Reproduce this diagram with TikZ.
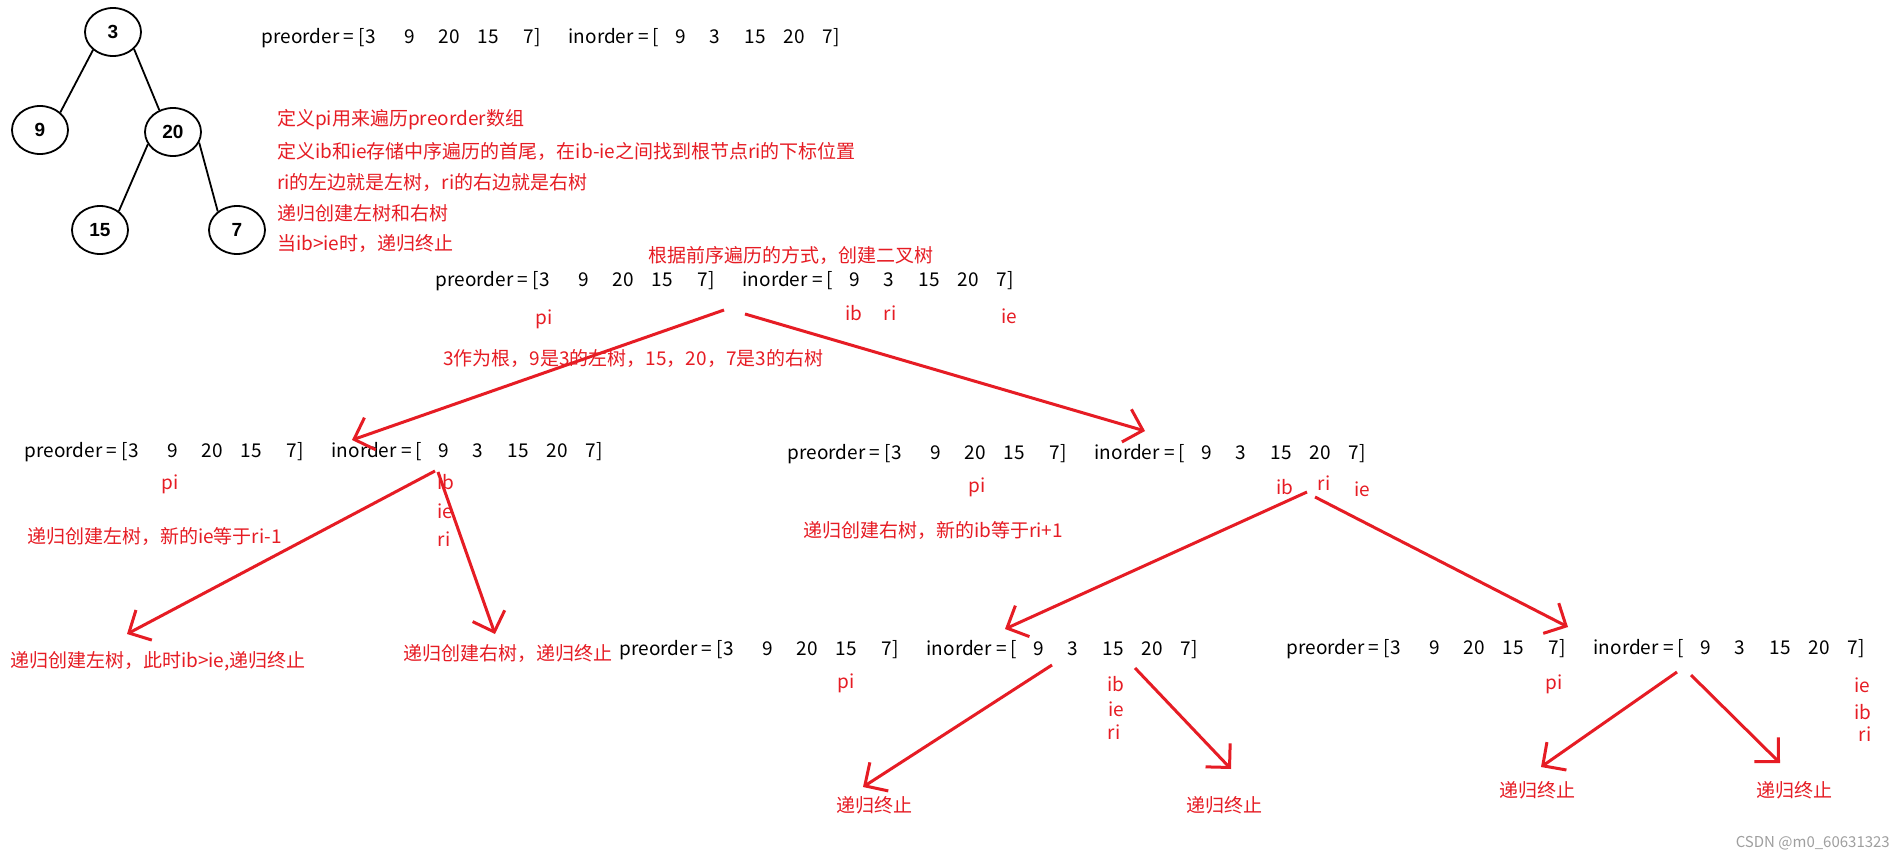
\documentclass[tikz,border=0pt]{standalone}
\usepackage{fontspec}
\setmainfont{Noto Sans CJK SC}
\newfontfamily\treefont{Liberation Sans}
\usetikzlibrary{arrows.meta,shapes.geometric}
\definecolor{myred}{RGB}{230,28,36}
\newcommand\fs{\fontsize{19}{23}\selectfont}
\newcommand\arrline{%
 \rlap{preorder = [3}%
 \rlap{\hspace{143pt}9}%
 \rlap{\hspace{177pt}20}%
 \rlap{\hspace{216pt}15}%
 \rlap{\hspace{262pt}7]}%
 \rlap{\hspace{307pt}inorder = [}%
 \rlap{\hspace{414pt}9}%
 \rlap{\hspace{448pt}3}%
 \rlap{\hspace{483pt}15}%
 \rlap{\hspace{522pt}20}%
 \rlap{\hspace{561pt}7]}%
 \hspace{576pt}}
\tikzset{
 arr/.style={anchor=west, inner sep=0pt, font=\fs},
 rtxt/.style={anchor=west, inner sep=0pt, text=myred, font=\fs},
 lbl/.style={inner sep=0pt, text=myred, font=\fs},
 redarrow/.style={draw=myred, line width=3pt, -{Straight Barb[length=17pt,width=34pt]}},
 tnode/.style={ellipse, draw, line width=1.8pt, minimum width=56pt, minimum height=48pt, inner sep=0pt, font=\treefont\bfseries\fontsize{19}{22}\selectfont},
 tedge/.style={line width=1.8pt}
}
\begin{document}
\begin{tikzpicture}[x=1pt,y=-1pt]
\useasboundingbox (0,0) rectangle (1904,862);
\fill[white] (0,0) rectangle (1904,862);
% tree
\node[tnode] (n3) at (113,32) {3};
\node[tnode] (n9) at (40,130) {9};
\node[tnode] (n20) at (173,132) {20};
\node[tnode] (n15) at (100,230) {15};
\node[tnode] (n7) at (237,230) {7};
\draw[tedge] (n3.222) -- (n9.41);
\draw[tedge] (n3.321) -- (n20.122);
\draw[tedge] (n20.206) -- (n15.45);
\draw[tedge] (n20.338) -- (n7.136);
% top array
\node[arr] (a1) at (261,38) {\arrline};
% explanation block
\node[rtxt] (e1) at (277,120) {定义pi用来遍历preorder数组};
\node[rtxt] (e2) at (277,151) {定义ib和ie存储中序遍历的首尾，在ib-ie之间找到根节点ri的下标位置};
\node[rtxt] (e3) at (277,182) {ri的左边就是左树，ri的右边就是右树};
\node[rtxt] (e4) at (277,213) {递归创建左树和右树};
\node[rtxt] (e5) at (277,244) {当ib>ie时，递归终止};
% level 0
\node[lbl] (t0) at (791,255) {根据前序遍历的方式，创建二叉树};
\node[arr] (a2) at (435,281) {\arrline};
\node[lbl] (p2) at (544,319) {pi};
\node[lbl] (b2) at (854,313) {ib};
\node[lbl] (r2) at (890,313) {ri};
\node[lbl] (i2) at (1009,316) {ie};
\node[rtxt] (t1) at (443,358) {3作为根，9是3的左树，15，20，7是3的右树};
% level 1 left
\node[arr] (a3) at (24,452) {\arrline};
\node[lbl] (p3) at (170,484) {pi};
\node[lbl] (b3) at (446,482) {ib};
\node[lbl] (i3) at (445,511) {ie};
\node[lbl] (r3) at (444,539) {ri};
\node[rtxt] (t2) at (27,536) {递归创建左树，新的ie等于ri-1};
\node[rtxt] (t3) at (10,661) {递归创建左树，此时ib>ie,递归终止};
\node[rtxt] (t4) at (403,654) {递归创建右树，递归终止};
% level 1 right
\node[arr] (a4) at (787,454) {\arrline};
\node[lbl] (p4) at (977,487) {pi};
\node[lbl] (b4) at (1285,487) {ib};
\node[lbl] (r4) at (1324,483) {ri};
\node[lbl] (i4) at (1362,489) {ie};
\node[rtxt] (t5) at (803,530) {递归创建右树，新的ib等于ri+1};
% level 2 left (array 5)
\node[arr] (a5) at (619,650) {\arrline};
\node[lbl] (p5) at (846,683) {pi};
\node[lbl] (b5) at (1116,684) {ib};
\node[lbl] (i5) at (1116,709) {ie};
\node[lbl] (r5) at (1114,732) {ri};
% level 2 right (array 6)
\node[arr] (a6) at (1286,649) {\arrline};
\node[lbl] (p6) at (1554,684) {pi};
\node[lbl] (i6) at (1862,685) {ie};
\node[lbl] (b6) at (1863,712) {ib};
\node[lbl] (r6) at (1865,734) {ri};
% end labels
\node[lbl] (s1) at (874,805) {递归终止};
\node[lbl] (s2) at (1224,805) {递归终止};
\node[lbl] (s3) at (1537,790) {递归终止};
\node[lbl] (s4) at (1794,790) {递归终止};
% watermark
\node[anchor=east, inner sep=0pt, text=gray!75, font=\fontsize{15}{18}\selectfont] (wm) at (1890,843) {CSDN @m0\_60631323};
% arrow coordinates
\coordinate (A1s) at (724,310); \coordinate (A1e) at (352,440);
\coordinate (A2s) at (745,314); \coordinate (A2e) at (1145,431);
\coordinate (A3s) at (435,471); \coordinate (A3e) at (127,634);
\coordinate (A4s) at (438,472); \coordinate (A4e) at (495,634);
\coordinate (A5s) at (1307,492); \coordinate (A5e) at (1005,629);
\coordinate (A6s) at (1315,497); \coordinate (A6e) at (1568,627);
\coordinate (A7s) at (1052,665); \coordinate (A7e) at (863,787);
\coordinate (A8s) at (1135,668); \coordinate (A8e) at (1231,769);
\coordinate (A9s) at (1677,672); \coordinate (A9e) at (1541,767);
\coordinate (A10s) at (1691,675); \coordinate (A10e) at (1780,763);
\draw[redarrow] (A1s) -- (A1e);
\draw[redarrow] (A2s) -- (A2e);
\draw[redarrow] (A3s) -- (A3e);
\draw[redarrow] (A4s) -- (A4e);
\draw[redarrow] (A5s) -- (A5e);
\draw[redarrow] (A6s) -- (A6e);
\draw[redarrow] (A7s) -- (A7e);
\draw[redarrow] (A8s) -- (A8e);
\draw[redarrow] (A9s) -- (A9e);
\draw[redarrow] (A10s) -- (A10e);
\end{tikzpicture}
\end{document}
